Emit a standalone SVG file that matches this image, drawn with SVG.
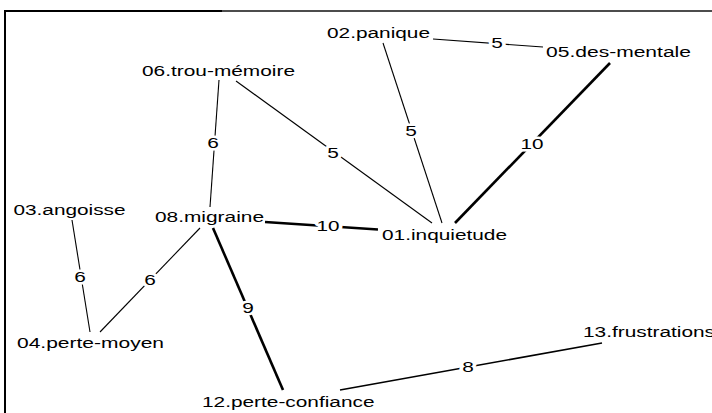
<svg xmlns="http://www.w3.org/2000/svg" width="712" height="413" viewBox="0 0 712 413">
<style>
text{font-family:"Liberation Sans",Arial,sans-serif;font-size:14px;fill:#000}
.e{stroke:#000;fill:none;stroke-linecap:butt}
.w1{stroke-width:1.1}
.w2{stroke-width:1.6}
.w3{stroke-width:2.6}
.lbl{text-anchor:middle;paint-order:stroke;stroke:#fff;stroke-width:5px;stroke-linejoin:round}
</style>
<rect width="712" height="413" fill="#fff"/>
<g id="frame">
<line x1="5" y1="11" x2="222" y2="11" stroke="#000" stroke-width="2"/>
<line x1="222" y1="11" x2="712" y2="11" stroke="#111" stroke-width="1.5"/>
<line x1="5" y1="10" x2="5" y2="413" stroke="#000" stroke-width="2"/>
</g>
<g id="connectors">
<line class="e w1" x1="433" y1="39" x2="543" y2="47"/>
<line class="e w1" x1="383" y1="43" x2="442" y2="223"/>
<line class="e w3" x1="610" y1="63" x2="455" y2="223"/>
<line class="e w1" x1="219" y1="80" x2="210" y2="207"/>
<line class="e w1" x1="236" y1="81" x2="432" y2="223"/>
<line class="e w3" x1="265" y1="222" x2="378" y2="229.5"/>
<line class="e w1" x1="200" y1="228" x2="100" y2="332"/>
<line class="e w1" x1="72" y1="220" x2="90" y2="332"/>
<line class="e w3" x1="213" y1="228" x2="283" y2="390"/>
<line class="e w2" x1="340" y1="390" x2="602" y2="343"/>
<text class="lbl" x="497" y="48" textLength="11.6" lengthAdjust="spacingAndGlyphs">5</text>
<text class="lbl" x="411" y="136" textLength="11.6" lengthAdjust="spacingAndGlyphs">5</text>
<text class="lbl" x="532" y="149" textLength="23" lengthAdjust="spacingAndGlyphs">10</text>
<text class="lbl" x="213" y="148" textLength="11.6" lengthAdjust="spacingAndGlyphs">6</text>
<text class="lbl" x="333" y="158" textLength="11.6" lengthAdjust="spacingAndGlyphs">5</text>
<text class="lbl" x="328" y="231" textLength="23" lengthAdjust="spacingAndGlyphs">10</text>
<text class="lbl" x="150" y="285" textLength="11.6" lengthAdjust="spacingAndGlyphs">6</text>
<text class="lbl" x="80" y="282" textLength="11.6" lengthAdjust="spacingAndGlyphs">6</text>
<text class="lbl" x="248" y="313" textLength="11.6" lengthAdjust="spacingAndGlyphs">9</text>
<text class="lbl" x="468" y="372" textLength="11.6" lengthAdjust="spacingAndGlyphs">8</text>
</g>
<g id="n01"><text x="382" y="240" textLength="125" lengthAdjust="spacingAndGlyphs">01.inquietude</text></g>
<g id="n02"><text x="327" y="38" textLength="103" lengthAdjust="spacingAndGlyphs">02.panique</text></g>
<g id="n03"><text x="13.5" y="215" textLength="112" lengthAdjust="spacingAndGlyphs">03.angoisse</text></g>
<g id="n04"><text x="17" y="348" textLength="147" lengthAdjust="spacingAndGlyphs">04.perte-moyen</text></g>
<g id="n05"><text x="546" y="57" textLength="145" lengthAdjust="spacingAndGlyphs">05.des-mentale</text></g>
<g id="n06"><text x="142" y="76" textLength="153" lengthAdjust="spacingAndGlyphs">06.trou-mémoire</text></g>
<g id="n08"><text x="155" y="222" textLength="109" lengthAdjust="spacingAndGlyphs">08.migraine</text></g>
<g id="n12"><text x="202" y="407" textLength="172.5" lengthAdjust="spacingAndGlyphs">12.perte-confiance</text></g>
<g id="n13"><text x="583" y="336.5" textLength="132" lengthAdjust="spacingAndGlyphs">13.frustrations</text></g>
</svg>
